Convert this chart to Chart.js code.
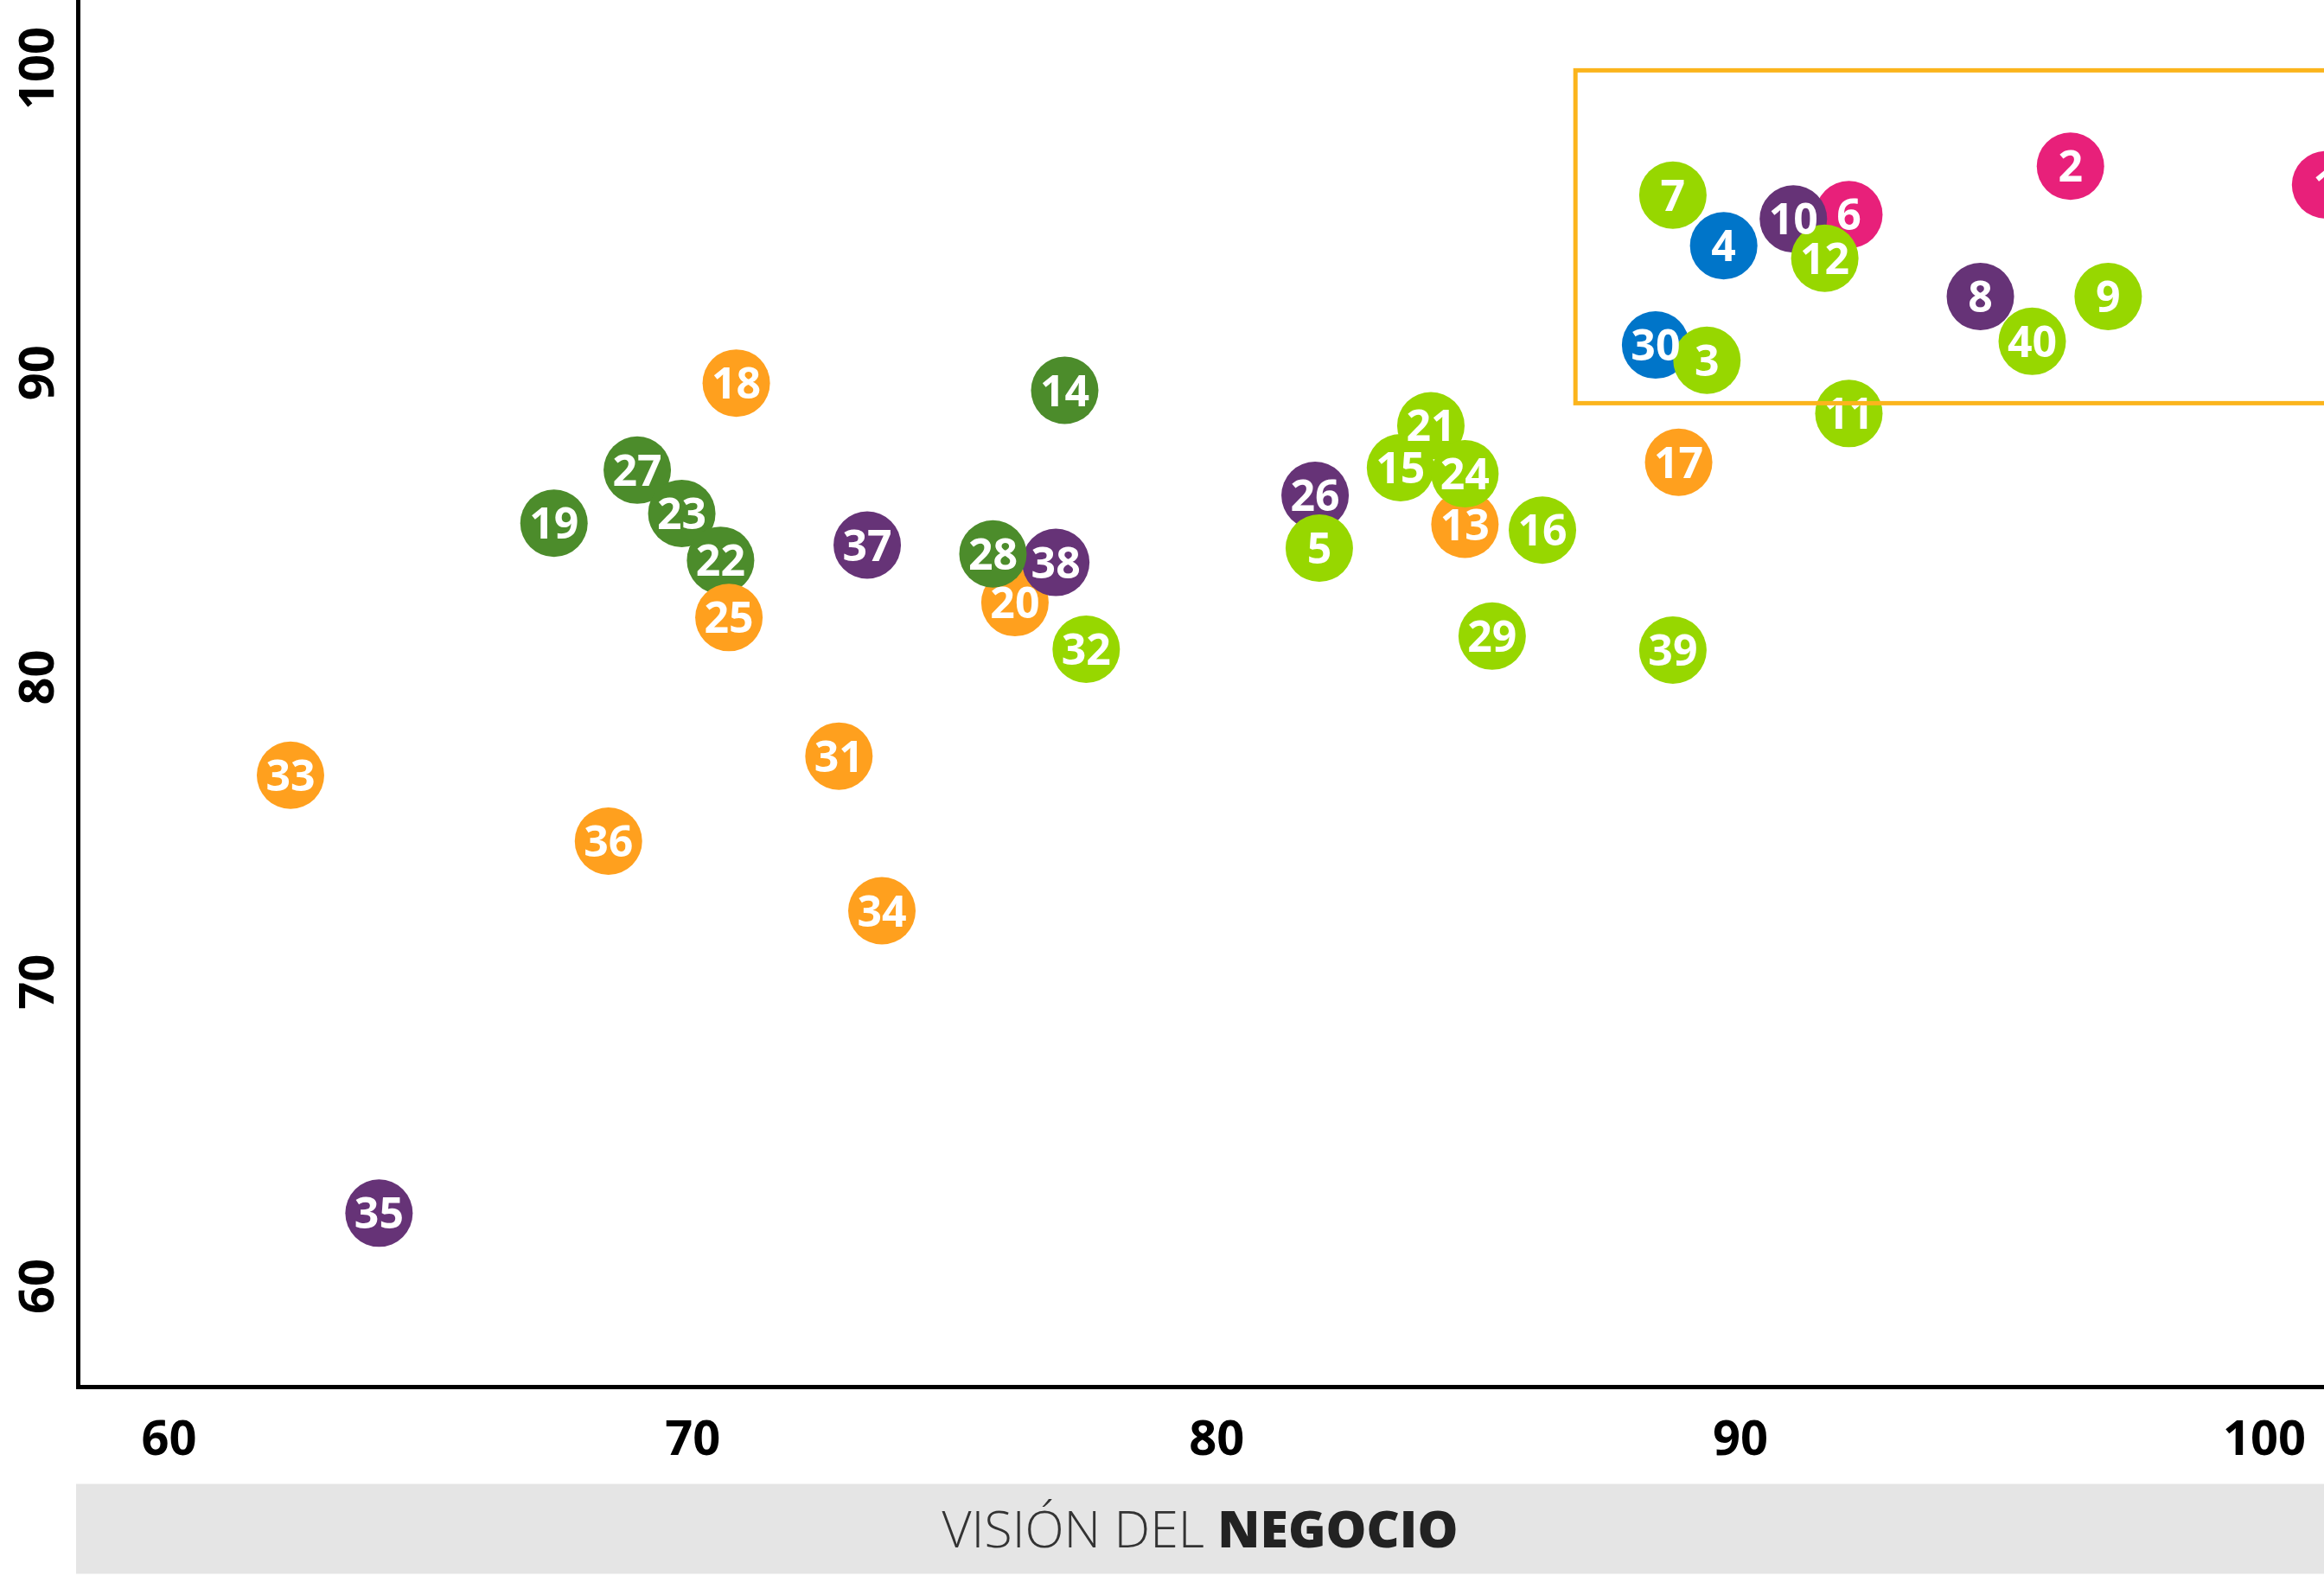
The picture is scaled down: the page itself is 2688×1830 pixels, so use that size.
<!DOCTYPE html>
<html>
<head>
<meta charset="utf-8">
<script src="https://cdn.jsdelivr.net/npm/chart.js@4.4.1/dist/chart.umd.min.js"></script>
<style>
  html, body { margin: 0; padding: 0; background: #fff; }
  #wrap { width: 2688px; height: 1830px; position: relative; }
</style>
</head>
<body>
<div id="wrap"><canvas id="grafico"></canvas></div>
<script>
// numero de cada empresa, en orden de dibujo (los ultimos quedan encima)
const ids = [20, 38, 28, 26, 5, 21, 15, 13, 24, 27, 23, 22, 25, 30, 3, 8, 40, 6, 10, 12,
  1, 2, 4, 7, 9, 11, 14, 16, 17, 18, 19, 29, 31, 32, 33, 34, 35, 36, 37, 39];
// vision del negocio (eje x)
const xs = [76.15, 76.93, 75.73, 81.88, 81.96, 84.09, 83.51, 84.74, 84.74, 68.94, 69.79, 70.53, 70.69, 88.38, 89.36, 94.58, 95.57, 92.07, 91.01, 91.61,
  101.17, 96.30, 89.68, 88.71, 97.02, 92.07, 77.10, 86.22, 88.82, 70.83, 67.35, 85.26, 72.79, 77.51, 62.32, 73.61, 64.01, 68.39, 73.33, 88.71];
// eje y
const ys = [82.45, 83.77, 84.05, 85.97, 84.24, 88.26, 86.88, 85.02, 86.68, 86.80, 85.38, 83.84, 81.96, 90.91, 90.41, 92.50, 91.03, 95.19, 95.05, 93.76,
  96.17, 96.78, 94.17, 95.83, 92.50, 88.66, 89.42, 84.83, 87.06, 89.66, 85.06, 81.35, 77.41, 80.92, 76.78, 72.33, 62.40, 74.62, 84.34, 80.89];
const grupos = ['naranja', 'morado', 'verde', 'morado', 'lima', 'lima', 'lima', 'naranja', 'lima', 'verde', 'verde', 'verde', 'naranja', 'azul', 'lima', 'morado', 'lima', 'rosa', 'morado', 'lima',
  'rosa', 'rosa', 'azul', 'lima', 'lima', 'lima', 'verde', 'lima', 'naranja', 'naranja', 'verde', 'lima', 'naranja', 'lima', 'naranja', 'naranja', 'morado', 'naranja', 'morado', 'lima'];

const xTicks = [60, 70, 80, 90, 100];
const yTicks = [60, 70, 80, 90, 100];
const xRango = [58.26, 101.14];
const yRango = [56.69, 102.24];
// recuadro de los lideres
const cajaX = [86.85, 104];
const cajaY = [89.0, 99.93];

const colores = {
  rosa: '#E8207A',
  lima: '#97D700',
  azul: '#0075C9',
  morado: '#663377',
  verde: '#4C8C2B',
  naranja: '#FFA01E'
};

const etiquetas = {
  id: 'etiquetas',
  afterDatasetsDraw(chart) {
    const ctx = chart.ctx;
    const meta = chart.getDatasetMeta(0);
    ctx.save();
    ctx.fillStyle = '#fff';
    ctx.font = "700 50px 'Open Sans'";
    ctx.textAlign = 'center';
    ctx.textBaseline = 'alphabetic';
    meta.data.forEach(function (pt, i) {
      ctx.fillText(String(ids[i]), pt.x, pt.y + 18);
    });
    ctx.restore();
  },
  afterDraw(chart) {
    const ctx = chart.ctx;
    const sx = chart.scales.x;
    const sy = chart.scales.y;
    ctx.save();
    // recuadro naranja
    ctx.strokeStyle = '#FBB41C';
    ctx.lineWidth = 5;
    const x0 = sx.getPixelForValue(cajaX[0]);
    const x1 = sx.getPixelForValue(cajaX[1]);
    const y0 = sy.getPixelForValue(cajaY[1]);
    const y1 = sy.getPixelForValue(cajaY[0]);
    ctx.strokeRect(x0, y0, x1 - x0, y1 - y0);

    // banda gris con el titulo del eje x
    const top = sx.top + 112;
    const left = chart.chartArea.left - 2;
    ctx.fillStyle = '#E5E5E5';
    ctx.fillRect(left, top, chart.width - left, 104);
    const t1 = 'VISIÓN DEL ';
    const t2 = 'NEGOCIO';
    ctx.font = "300 59px 'Open Sans'";
    const w1 = ctx.measureText(t1).width;
    ctx.font = "800 59px 'Open Sans'";
    const w2 = ctx.measureText(t2).width;
    let cx = (left + chart.width) / 2 - (w1 + w2) / 2;
    ctx.textBaseline = 'alphabetic';
    ctx.textAlign = 'left';
    ctx.fillStyle = '#333';
    ctx.font = "300 59px 'Open Sans'";
    ctx.fillText(t1, cx, top + 73);
    ctx.font = "800 59px 'Open Sans'";
    ctx.fillStyle = '#222';
    ctx.fillText(t2, cx + w1, top + 73);
    ctx.restore();
  }
};

const ctx = document.getElementById('grafico').getContext('2d');
const grafico = new Chart(ctx, {
  type: 'scatter',
  data: {
    datasets: [{
      data: xs.map(function (x, i) { return { x: x, y: ys[i] }; }),
      backgroundColor: grupos.map(function (g) { return colores[g]; }),
      borderWidth: 0,
      pointRadius: 39,
      pointHoverRadius: 39,
      clip: false
    }]
  },
  options: {
    responsive: true,
    maintainAspectRatio: false,
    devicePixelRatio: 1,
    animation: false,
    events: [],
    layout: { padding: 0, autoPadding: false },
    plugins: {
      legend: { display: false },
      tooltip: { enabled: false }
    },
    scales: {
      x: {
        type: 'linear',
        min: xRango[0],
        max: xRango[1],
        afterBuildTicks: function (s) { s.ticks = xTicks.map(function (v) { return { value: v }; }); },
        afterFit: function (s) {
          s.height = 225.5;
          s.paddingLeft = 0;
          s.paddingRight = 0;
        },
        grid: { display: false },
        border: { display: true, color: '#000', width: 5 },
        ticks: {
          color: '#000',
          padding: 21,
          maxRotation: 0,
          font: { family: 'Open Sans', size: 56, weight: '700' }
        }
      },
      y: {
        type: 'linear',
        min: yRango[0],
        max: yRango[1],
        afterBuildTicks: function (s) { s.ticks = yTicks.map(function (v) { return { value: v }; }); },
        afterFit: function (s) {
          s.width = 90;
          s.paddingTop = 0;
          s.paddingBottom = 0;
        },
        grid: { display: false },
        border: { display: true, color: '#000', width: 5 },
        ticks: {
          color: '#000',
          padding: -12,
          minRotation: 90,
          maxRotation: 90,
          crossAlign: 'center',
          font: { family: 'Open Sans', size: 56, weight: '700' }
        }
      }
    }
  },
  plugins: [etiquetas]
});
</script>
</body>
</html>
